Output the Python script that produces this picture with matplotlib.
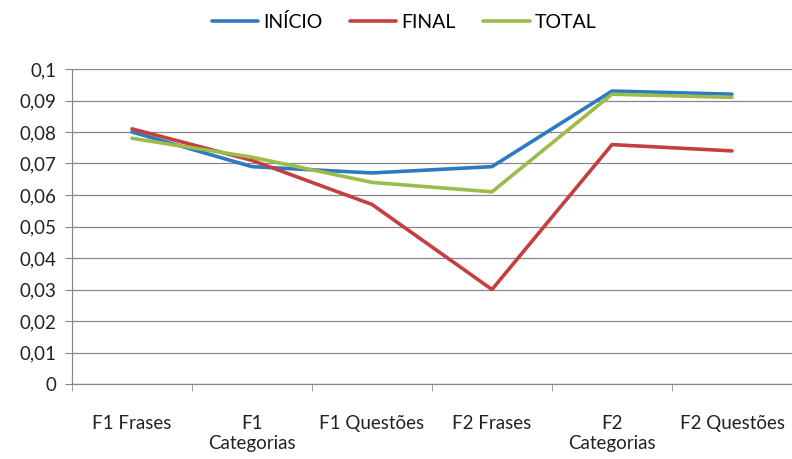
import matplotlib
matplotlib.use("Agg")
import matplotlib.pyplot as plt
from matplotlib.ticker import FixedLocator

categories = ["F1 Frases", "F1\nCategorias", "F1 Questões", "F2 Frases", "F2\nCategorias", "F2 Questões"]
inicio = [0.080, 0.069, 0.067, 0.069, 0.093, 0.092]
final = [0.081, 0.071, 0.057, 0.030, 0.076, 0.074]
total = [0.078, 0.072, 0.064, 0.061, 0.092, 0.091]
yticks = [0, 0.01, 0.02, 0.03, 0.04, 0.05, 0.06, 0.07, 0.08, 0.09, 0.1]
ytick_labels = ["0", "0,01", "0,02", "0,03", "0,04", "0,05", "0,06", "0,07", "0,08", "0,09", "0,1"]

plt.rcParams['font.family'] = ['Lato', 'DejaVu Sans']

fig = plt.figure(figsize=(7.92, 4.59), dpi=100)
ax = fig.add_axes([72/792, 1-384/459, 1-72/792, (384-69)/459])

x = list(range(len(categories)))
ax.plot(x, inicio, color='#2A7BC0', lw=2.6, label='INÍCIO', solid_capstyle='round')
ax.plot(x, final, color='#C4403F', lw=2.6, label='FINAL', solid_capstyle='round')
ax.plot(x, total, color='#9BBB4A', lw=2.6, label='TOTAL', solid_capstyle='round')

ax.set_xlim(-0.5, len(categories) - 0.5)
ax.set_ylim(0, 0.1)
ax.set_yticks(yticks)
ax.set_yticklabels(ytick_labels, fontsize=13.5, color='#222222')
ax.set_xticks(x)
ax.set_xticklabels(categories, fontsize=13.5, color='#222222', linespacing=1.25)
ax.xaxis.set_minor_locator(FixedLocator([i - 0.5 for i in range(len(categories) + 1)]))
ax.tick_params(axis='x', which='major', length=0, pad=22)
ax.tick_params(axis='x', which='minor', length=5, color='#888888', direction='out')
ax.tick_params(axis='y', length=5, color='#888888', direction='out', pad=6)

ax.grid(axis='y', color='#888888', lw=0.9)
ax.set_axisbelow(True)
for s in ['top', 'right']:
    ax.spines[s].set_visible(False)
for s in ['left', 'bottom']:
    ax.spines[s].set_color('#888888')
    ax.spines[s].set_linewidth(0.9)

leg = fig.legend(loc='upper center', bbox_to_anchor=(0.51, 1.01), ncol=3, frameon=False,
                 fontsize=14, handlelength=2.4, handletextpad=0.25, columnspacing=1.4)

fig.savefig('out.png', dpi=100)
